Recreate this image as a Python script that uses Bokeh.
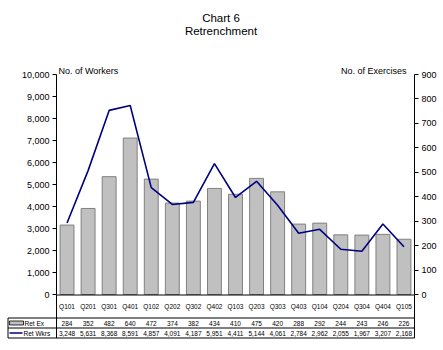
import numpy as np
from bokeh.plotting import figure
from bokeh.models import (Range1d, LinearAxis, FixedTicker, NumeralTickFormatter,
                          Label, ColumnDataSource)
from bokeh.core.properties import value
from bokeh.embed import file_html
from bokeh.resources import INLINE

# ---------------- data ----------------
quarters = ["Q101", "Q201", "Q301", "Q401", "Q102", "Q202", "Q302", "Q402", "Q103",
            "Q203", "Q303", "Q403", "Q104", "Q204", "Q304", "Q404", "Q105"]
ret_ex = [284, 352, 482, 640, 472, 374, 382, 434, 410, 475, 420, 288, 292, 244, 243, 246, 226]
ret_wkrs = [3248, 5631, 8368, 8591, 4857, 4091, 4187, 5951, 4411, 5144, 4061, 2784, 2962,
            2055, 1967, 3207, 2168]
left_ticks = [0, 1000, 2000, 3000, 4000, 5000, 6000, 7000, 8000, 9000, 10000]
right_ticks = [0, 100, 200, 300, 400, 500, 600, 700, 800, 900]
series_names = ["Ret Ex", "Ret Wkrs"]
title_lines = ["Chart 6", "Retrenchment"]
left_title = "No. of Workers"
right_title = "No. of Exercises"

FONT = "Liberation Sans"
BAR_FILL = "#C0C0C0"
BAR_LINE = "#808080"
LINE_COL = "#000080"

# ---------------- layout geometry (pixels) ----------------
W, H = 443, 350
LEFT, RIGHT = 56, 414      # plot area x extent
Y0, YTOP = 294, 74         # pixel of zero line and of top tick
n = len(quarters)
cw = (RIGHT - LEFT) / n

left_max = left_ticks[-1]
right_max = right_ticks[-1]
kl = left_max / (Y0 - YTOP)     # left-axis units per pixel
kr = right_max / (Y0 - YTOP)    # right-axis units per pixel

def gx(px):
    return (px - LEFT) / cw

def gy(py):
    return (Y0 - py) * kl

p = figure(width=W, height=H, x_range=Range1d(gx(0), gx(W)), title=None,
           y_range=Range1d(gy(H), gy(0)), output_backend="svg", toolbar_location=None,
           min_border=0, min_border_left=0, min_border_right=0, min_border_top=0,
           min_border_bottom=0, x_axis_location=None, y_axis_location=None)
p.extra_y_ranges = {"ex": Range1d(-(H - Y0) * kr, Y0 * kr)}
p.outline_line_color = None
p.xgrid.grid_line_color = None
p.ygrid.grid_line_color = None
p.background_fill_color = "white"
p.border_fill_color = "white"

def style_axis(ax, size="9px"):
    ax.axis_line_color = "black"
    ax.axis_line_width = 1
    ax.major_tick_line_color = "black"
    ax.major_tick_in = 0
    ax.major_tick_out = 4
    ax.minor_tick_line_color = None
    ax.major_label_text_font = FONT
    ax.major_label_text_font_size = size
    ax.major_label_text_color = "black"
    ax.major_label_standoff = 3

lax = LinearAxis(ticker=FixedTicker(ticks=left_ticks), formatter=NumeralTickFormatter(format="0,0"),
                 bounds=(0, left_max), fixed_location=0)
style_axis(lax)
p.add_layout(lax, "left")

rax = LinearAxis(y_range_name="ex", ticker=FixedTicker(ticks=right_ticks),
                 formatter=NumeralTickFormatter(format="0,0"), bounds=(0, right_max),
                 fixed_location=n)
style_axis(rax)
p.add_layout(rax, "right")

xc = np.arange(n) + 0.5
src = ColumnDataSource(dict(x=xc, q=quarters, ex=ret_ex, wk=ret_wkrs,
                            exs=[f"{v:,}" for v in ret_ex], wks=[f"{v:,}" for v in ret_wkrs]))
p.vbar(x="x", top="ex", width=0.66, source=src, y_range_name="ex",
       fill_color=BAR_FILL, line_color=BAR_LINE, line_width=1)
p.line(x="x", y="wk", source=src, line_color=LINE_COL, line_width=1.6)

# titles
def lab(text, px, py, align, size):
    p.add_layout(Label(x=gx(px), y=gy(py), text=text, text_align=align,
                       text_baseline="alphabetic", text_font=FONT, text_font_size=size,
                       text_color="black"))

lab(title_lines[0], W / 2 - 1, 17, "center", "11.5px")
lab(title_lines[1], W / 2 - 1, 30, "center", "11.5px")
lab(left_title, 58, 70, "left", "9px")
lab(right_title, 406, 70, "right", "9px")

# ---------------- category row + data table below ----------------
y_cat, y_l1, y_ex, y_l2, y_wk, y_bot = 305.5, 317.5, 322.5, 327.5, 332.5, 337.5
xb = gx(7.5)

p.segment(x0=[0, xb, xb, xb, 0, n, xb],
          y0=[gy(Y0 + 0.5), gy(y_l1), gy(y_l2), gy(y_bot), 0, 0, gy(y_l1)],
          x1=[n, n, n, n, 0, n, xb],
          y1=[gy(Y0 + 0.5), gy(y_l1), gy(y_l2), gy(y_bot), gy(y_bot), gy(y_bot), gy(y_bot)],
          line_color="black", line_width=1)

tfs = "6.5px"
for col, yy in (("q", y_cat), ("exs", y_ex), ("wks", y_wk)):
    p.text(x="x", y=gy(yy), text=col, source=src, text_align="center",
           text_baseline="middle", text_font=value(FONT), text_font_size=tfs,
           text_color="black")

# legend keys
p.quad(left=[gx(9)], right=[gx(23)], top=[gy(y_ex - 2)], bottom=[gy(y_ex + 2)],
       fill_color=BAR_FILL, line_color="black", line_width=0.8)
p.segment(x0=[gx(9)], y0=[gy(y_wk)], x1=[gx(22)], y1=[gy(y_wk)], line_color=LINE_COL,
          line_width=1.3)
p.text(x=[gx(24), gx(23)], y=[gy(y_ex), gy(y_wk)], text=series_names, text_align="left",
       text_baseline="middle", text_font=value(FONT), text_font_size=tfs, text_color="black")

open("out.html", "w").write(file_html(p, INLINE))
